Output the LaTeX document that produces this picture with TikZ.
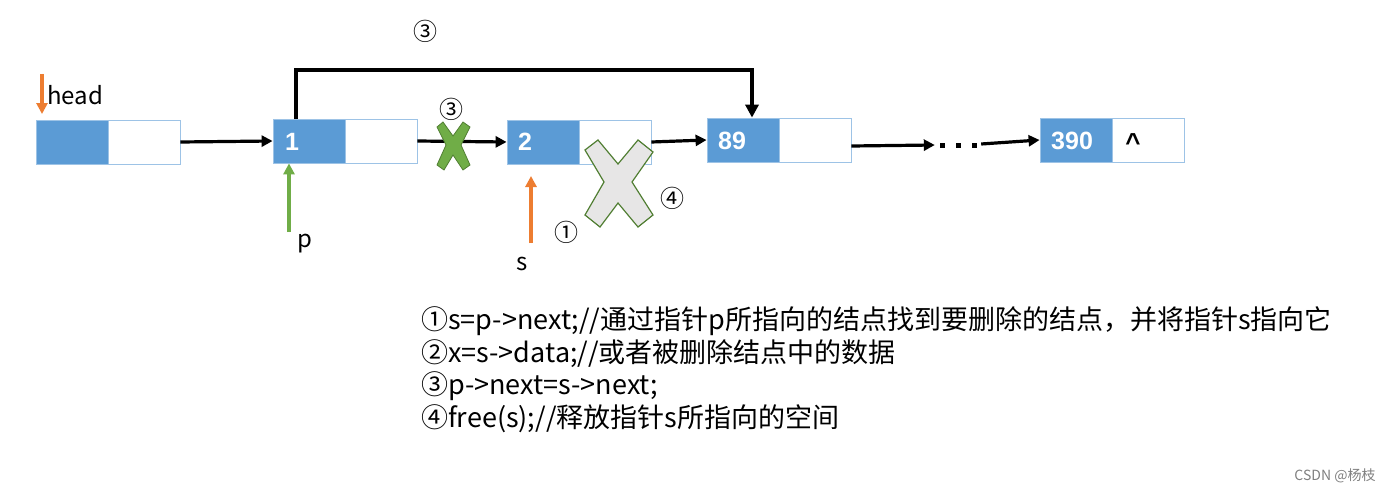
\documentclass[tikz,border=0pt]{standalone}
\usepackage{fontspec}
\setmainfont{Noto Sans CJK SC}
\newfontfamily\numfont{Liberation Sans}
\usetikzlibrary{arrows.meta}
\definecolor{nblue}{HTML}{5B9BD5}
\definecolor{nborder}{HTML}{9DC3E6}
\definecolor{norange}{HTML}{ED7D31}
\definecolor{ngreen}{HTML}{70AD47}
\definecolor{ngreendark}{HTML}{507E32}
\definecolor{xgray}{HTML}{E7E6E6}
\begin{document}
\begin{tikzpicture}[x=1pt,y=-1pt,
  datapart/.style={draw=nborder,fill=nblue,minimum width=72pt,minimum height=44pt,inner sep=0pt,line width=0.8pt},
  nextpart/.style={draw=nborder,fill=white,minimum width=72pt,minimum height=44pt,inner sep=0pt,line width=0.8pt},
  numtxt/.style={text=white,font=\numfont\bfseries\fontsize{25}{25}\selectfont,anchor=west,inner sep=0pt},
  link/.style={line width=3.2pt,-{Triangle[length=11pt,width=11pt]}},
  ptr/.style={line width=3.5pt,-{Triangle[length=11pt,width=11pt]}},
  lbl/.style={font=\fontsize{24}{24}\selectfont},
  circ/.style={font=\fontsize{24}{24}\selectfont},
  note/.style={font=\fontsize{27}{27}\selectfont,anchor=west,inner sep=0pt}]
\useasboundingbox (0,0) rectangle (1400,495);
\fill[white] (0,0) rectangle (1400,495);
% nodes
\node[datapart] (h0) at (72,142) {};
\node[nextpart] (h1) at (144,142) {};
\node[datapart] (a0) at (309,141) {};
\node[nextpart] (a1) at (381,141) {};
\node[datapart] (b0) at (543,142) {};
\node[nextpart] (b1) at (615,142) {};
\node[datapart] (c0) at (743,140) {};
\node[nextpart] (c1) at (815,140) {};
\node[datapart] (d0) at (1076,140) {};
\node[nextpart] (d1) at (1148,140) {};
\node[numtxt] at (285,142) {1};
\node[numtxt] at (518,142) {2};
\node[numtxt] at (718,141) {89};
\node[numtxt] at (1051,141) {390};
\node[font=\numfont\bfseries\fontsize{26}{26}\selectfont] (caret) at (1133,143) {\textasciicircum};
% links
\draw[link] (h1.east) -- (a0.west);
\draw[link] (a1.east) -- (b0.west);
\draw[link] (b1.east) -- (c0.west);
\node[minimum width=46pt,minimum height=8pt,inner sep=0pt] (dots) at (958,145) {};
\foreach \dx in {942,958,974} \fill (\dx-2.5,142.5) rectangle (\dx+2.5,147.5);
\draw[link] (c1.east |- 0,146) -- (dots.west |- 0,145);
\draw[link] (dots.east |- 0,144) -- (d0.west);
% bypass bracket
\coordinate (up1) at (296,70);
\coordinate (up2) at (752,70);
\draw[line width=4pt,-{Triangle[length=13pt,width=13pt]}] (a0.north -| up1) -- (up1) -- (up2) -- (c0.north -| up2);
% pointers
\node[lbl,anchor=base west,inner sep=0pt] (headlbl) at (47,104) {head};
\coordinate (hs) at (42,74);
\draw[ptr,draw=norange,fill=norange] (hs) -- (42,114);
\node[lbl] (plbl) at (305,244) {p};
\draw[ptr,draw=ngreen,fill=ngreen] (289,232) -- (a0.south -| 289,0);
\node[lbl] (slbl) at (522,264) {s};
\draw[ptr,draw=norange,fill=norange] (531,243) -- (531,176);
% X marks
\draw[fill=ngreen,draw=ngreendark,line width=0.8pt]
  (437,127) -- (443,122) -- (453,136) -- (463,122) -- (470,127) -- (461,145)
  -- (470,165) -- (463,170) -- (453,155) -- (444,170) -- (437,165) -- (446,145) -- cycle;
\draw[fill=xgray,draw=ngreendark,line width=1.2pt]
  (585,150) -- (598,140) -- (618,164) -- (638,140) -- (653,152) -- (632,182)
  -- (653,215) -- (638,227) -- (618,203) -- (600,227) -- (585,215) -- (604,182) -- cycle;
% circled numbers
\node[circ] (c3a) at (425,31) {③};
\node[circ] (c3b) at (451,109) {③};
\node[circ] (c4) at (672,198) {④};
\node[circ] (c1) at (566,232) {①};
% notes
\node[note] (n1) at (421,321) {①s=p->next;//通过指针p所指向的结点找到要删除的结点，并将指针s指向它};
\node[note] (n2) at (421,354) {②x=s->data;//或者被删除结点中的数据};
\node[note] (n3) at (421,386) {③p->next=s->next;};
\node[note] (n4) at (421,419) {④free(s);//释放指针s所指向的空间};
\node[font=\fontsize{14}{14}\selectfont,text=gray] (wm) at (1335,476) {CSDN @杨枝};
\end{tikzpicture}
\end{document}
